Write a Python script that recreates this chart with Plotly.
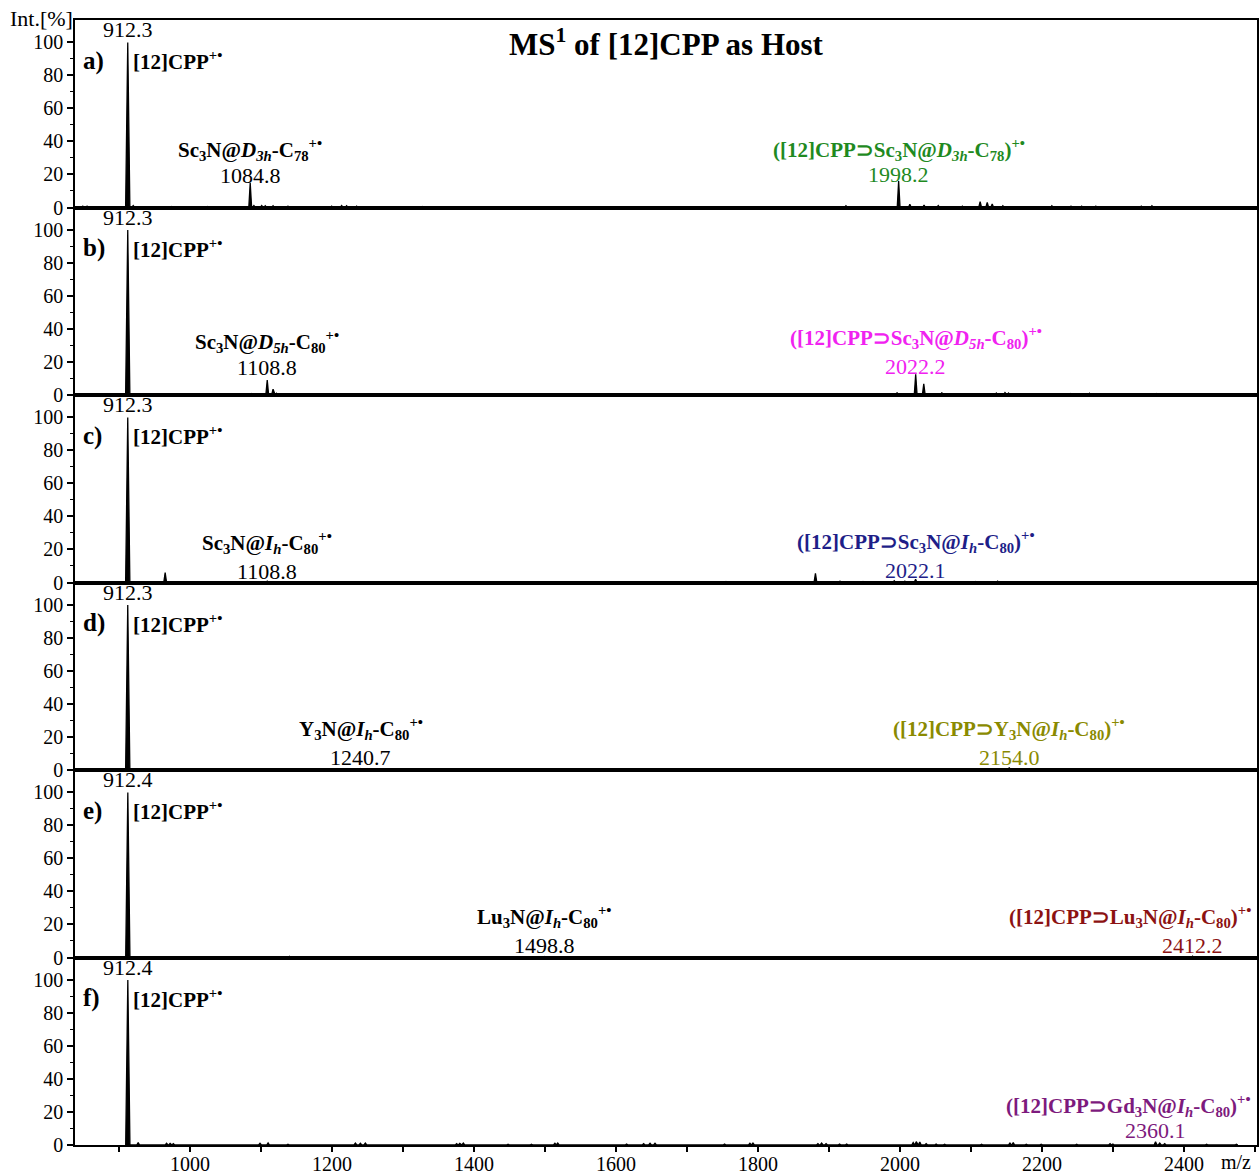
import plotly.graph_objects as go
from plotly.subplots import make_subplots

# ---------------- data ----------------
panel_letters = ["a)", "b)", "c)", "d)", "e)", "f)"]
host_mz_labels = ["912.3", "912.3", "912.3", "912.3", "912.4", "912.4"]

a_mz = [849, 855, 912.3, 920, 974, 1025, 1084.8, 1090, 1101, 1106, 1117, 1138, 1199.5, 1213.6,
        1220.6, 1234.7, 1328, 1924, 1998.2, 2014, 2034, 2054, 2088, 2113, 2123, 2130, 2145,
        2214, 2241, 2256, 2276, 2340, 2355]
a_int = [0.8, 0.8, 100, 1.2, 0.6, 0.6, 15, 1.2, 1.2, 1.0, 1.0, 0.8, 0.8, 1.2,
         1.0, 0.8, 0.6, 1.0, 16, 2.0, 1.5, 1.2, 0.8, 3.5, 3.0, 2.2, 1.0,
         1.0, 0.8, 0.8, 0.8, 0.8, 1.0]

b_mz = [912.3, 1028, 1087, 1108.8, 1117, 1122, 1145.5, 1223, 1352, 1996, 2022.2, 2033.6,
        2059, 2113, 2135.8, 2148, 2153, 2183, 2240, 2267, 2361, 2376]
b_int = [100, 0.4, 0.8, 9.0, 3.5, 1.0, 0.6, 0.5, 0.5, 1.5, 12.5, 6.7,
         1.5, 0.7, 1.2, 1.5, 1.2, 0.6, 0.8, 1.0, 0.8, 0.6]

c_mz = [912.3, 965, 1108.8, 1755, 1881, 1915.6, 1948, 1992, 2007, 2022.1, 2106, 2137.6,
        2153, 2220, 2364]
c_int = [100, 6.0, 0.8, 0.6, 5.5, 0.8, 0.6, 1.0, 0.8, 2.0, 0.6, 0.8,
         0.5, 0.5, 0.5]

d_mz = [912.3, 970, 1030, 1100, 1140, 1240.7, 1500, 2154.0, 2270]
d_int = [100, 0.5, 0.4, 0.5, 0.5, 0.8, 0.3, 1.5, 0.6]

e_mz = [912.4, 1030, 1140, 1498.8, 2412.2]
e_int = [100, 0.4, 0.7, 0.6, 0.8]

f_mz = [912.4, 927, 967, 972, 976.5, 1098.6, 1110, 1138, 1233, 1240, 1247, 1375.6, 1380,
        1385, 1448, 1481, 1514, 1518, 1615, 1639, 1648, 1655, 1753, 1788.7, 1793, 1884.5,
        1889.7, 1896, 1915, 1925, 1977, 2018.7, 2023, 2028, 2037, 2051, 2063, 2115, 2155,
        2159.6, 2178, 2199, 2249, 2296, 2300, 2360.1, 2366, 2373, 2432, 2474]
f_int = [100, 1.5, 1.0, 1.0, 0.8, 1.0, 1.3, 0.5, 1.2, 1.0, 1.2, 0.8, 1.0,
         1.2, 0.5, 0.5, 1.0, 1.2, 0.6, 0.8, 1.0, 1.0, 0.6, 1.0, 1.2, 0.8,
         1.2, 0.8, 0.6, 0.6, 0.3, 1.5, 2.0, 1.8, 0.8, 0.6, 0.5, 0.5, 1.2,
         1.5, 0.5, 0.5, 0.5, 0.8, 0.6, 2.0, 1.2, 0.8, 0.5, 0.5]

spectra = [(a_mz, a_int), (b_mz, b_int), (c_mz, c_int), (d_mz, d_int), (e_mz, e_int), (f_mz, f_int)]

guest_text = [
    "Sc<sub>3</sub>N@<i>D</i><sub><i>3h</i></sub>-C<sub>78</sub><sup>+•</sup>",
    "Sc<sub>3</sub>N@<i>D</i><sub><i>5h</i></sub>-C<sub>80</sub><sup>+•</sup>",
    "Sc<sub>3</sub>N@<i>I</i><sub><i>h</i></sub>-C<sub>80</sub><sup>+•</sup>",
    "Y<sub>3</sub>N@<i>I</i><sub><i>h</i></sub>-C<sub>80</sub><sup>+•</sup>",
    "Lu<sub>3</sub>N@<i>I</i><sub><i>h</i></sub>-C<sub>80</sub><sup>+•</sup>",
    None,
]
guest_mz = [1084.8, 1108.8, 1108.8, 1240.7, 1498.8, None]
guest_num = ["1084.8", "1108.8", "1108.8", "1240.7", "1498.8", None]
guest_y = [(35.0, 19.5), (32.5, 16.5), (24.5, 6.5), (25.0, 7.8), (25.0, 7.3), None]

complex_text = [
    "([12]CPP⊃Sc<sub>3</sub>N@<i>D</i><sub><i>3h</i></sub>-C<sub>78</sub>)<sup>+•</sup>",
    "([12]CPP⊃Sc<sub>3</sub>N@<i>D</i><sub><i>5h</i></sub>-C<sub>80</sub>)<sup>+•</sup>",
    "([12]CPP⊃Sc<sub>3</sub>N@<i>I</i><sub><i>h</i></sub>-C<sub>80</sub>)<sup>+•</sup>",
    "([12]CPP⊃Y<sub>3</sub>N@<i>I</i><sub><i>h</i></sub>-C<sub>80</sub>)<sup>+•</sup>",
    "([12]CPP⊃Lu<sub>3</sub>N@<i>I</i><sub><i>h</i></sub>-C<sub>80</sub>)<sup>+•</sup>",
    "([12]CPP⊃Gd<sub>3</sub>N@<i>I</i><sub><i>h</i></sub>-C<sub>80</sub>)<sup>+•</sup>",
]
complex_mz = [1998.2, 2022.2, 2022.1, 2154.0, 2412.2, 2360.1]
complex_num = ["1998.2", "2022.2", "2022.1", "2154.0", "2412.2", "2360.1"]
complex_y = [(35.0, 20.0), (35.0, 17.0), (25.0, 7.0), (25.0, 7.8), (25.0, 7.3), (24.0, 8.5)]
complex_right = [False, False, False, False, True, True]
complex_color = ["#1f8a1f", "#f022f0", "#1e1e88", "#8a8a00", "#8c1212", "#7d1a7d"]

x_major = list(range(1000, 2401, 200))
x_all_ticks = list(range(900, 2501, 100))
y_tickvals = [0, 20, 40, 60, 80, 100]
y_minor = [10, 30, 50, 70, 90]

XMIN, XMAX = 838, 2503
YMAX = 113.6
FONT = "Liberation Serif"

# ---------------- figure ----------------
fig = make_subplots(rows=6, cols=1, shared_xaxes=True, vertical_spacing=0)

for i, (mz, inten) in enumerate(spectra):
    xs, ys = [], []
    for m, h in sorted(zip(mz, inten)):
        w = 3.0 if h >= 50 else 2.0
        xs += [m - w, m, m + w]
        ys += [0, h, 0]
    fig.add_trace(go.Scatter(x=xs, y=ys, mode="lines", fill="tozeroy",
                             fillcolor="black", line=dict(color="black", width=1.3),
                             hoverinfo="skip", showlegend=False), row=i + 1, col=1)

for i in range(6):
    r = i + 1
    fig.update_yaxes(range=[0, YMAX], tickvals=y_tickvals, ticks="outside", ticklen=6,
                     tickwidth=1.5, tickcolor="black", showline=True, linecolor="black",
                     linewidth=1.5, mirror=True, showgrid=False, zeroline=False,
                     automargin=False,
                     tickfont=dict(family=FONT, size=20, color="black"),
                     minor=dict(tickvals=y_minor, ticks="outside", ticklen=3,
                                tickcolor="black", tickwidth=1.2),
                     row=r, col=1)
    fig.update_xaxes(range=[XMIN, XMAX], showline=True, linecolor="black", linewidth=2,
                     mirror=True, showgrid=False, zeroline=False, automargin=False,
                     row=r, col=1)
    if r == 6:
        # tick marks drawn through the minor set so labels sit close to the axis
        fig.update_xaxes(tickvals=x_major, ticks="",
                         tickfont=dict(family=FONT, size=20, color="black"),
                         minor=dict(tickvals=x_all_ticks, ticks="outside", ticklen=5,
                                    tickcolor="black", tickwidth=1.5),
                         showticklabels=True, row=r, col=1)
    else:
        fig.update_xaxes(showticklabels=False, ticks="", row=r, col=1)

    def ann(text, x, y, size=20, color="black", xanchor="center", yanchor="middle"):
        fig.add_annotation(text=text, x=x, y=y, xref=f"x{r if r > 1 else ''}",
                           yref=f"y{r if r > 1 else ''}", showarrow=False,
                           xanchor=xanchor, yanchor=yanchor,
                           font=dict(family=FONT, size=size, color=color))

    ann("<b>" + panel_letters[i] + "</b>", 847, 89, size=25, xanchor="left")
    ann(host_mz_labels[i], float(host_mz_labels[i]), 99, size=22, yanchor="bottom")
    ann("<b>[12]CPP<sup>+•</sup></b>", 917, 89, size=21, xanchor="left")
    if guest_text[i]:
        ann("<b>" + guest_text[i] + "</b>", guest_mz[i], guest_y[i][0], size=21)
        ann(guest_num[i], guest_mz[i], guest_y[i][1], size=22)
    if complex_right[i]:
        ann("<b>" + complex_text[i] + "</b>", 2498, complex_y[i][0], size=21,
            color=complex_color[i], xanchor="right")
    else:
        ann("<b>" + complex_text[i] + "</b>", complex_mz[i], complex_y[i][0], size=21,
            color=complex_color[i])
    ann(complex_num[i], complex_mz[i], complex_y[i][1], size=22, color=complex_color[i])

fig.add_annotation(text="Int.[%]", xref="paper", yref="paper", x=0, y=1.001,
                   xanchor="right", yanchor="middle", showarrow=False,
                   font=dict(family=FONT, size=22, color="black"))
fig.add_annotation(text="m/z", xref="x6", yref="paper", x=2474, y=-0.0155,
                   xanchor="center", yanchor="middle", showarrow=False,
                   font=dict(family=FONT, size=20, color="black"))
fig.add_annotation(text="<b>MS<sup>1</sup> of [12]CPP as Host</b>", xref="paper", yref="paper",
                   x=0.5, y=0.98, xanchor="center", yanchor="middle", showarrow=False,
                   font=dict(family=FONT, size=31, color="black"))

fig.update_layout(width=1259, height=1173, margin=dict(l=75, r=2, t=20, b=28),
                  font=dict(family=FONT, color="black"),
                  paper_bgcolor="white", plot_bgcolor="white", showlegend=False)

fig.write_html("out.html")
